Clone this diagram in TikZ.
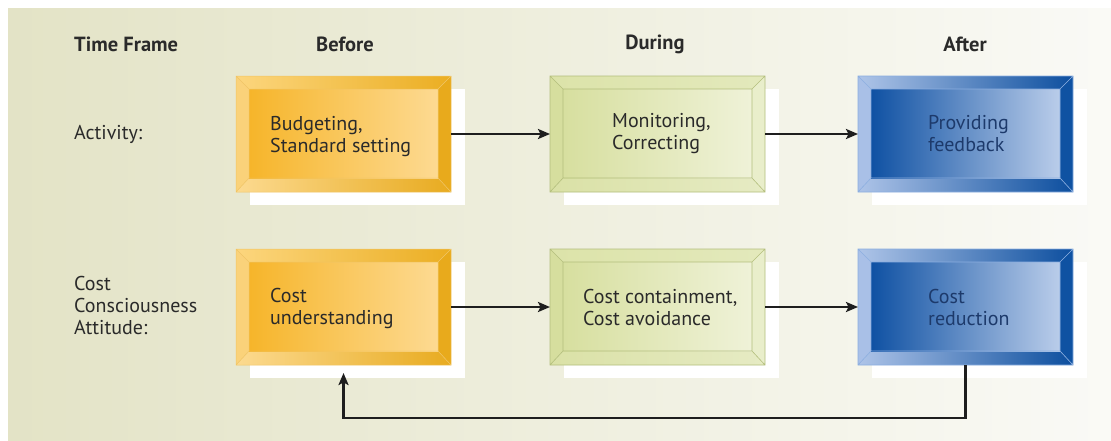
\documentclass[tikz,border=0pt]{standalone}
\usepackage{fontspec}
\setmainfont{PT Sans}
\usetikzlibrary{arrows.meta}
\definecolor{bgL}{HTML}{E3E3C6}
\definecolor{bgM}{HTML}{EEEEDF}
\definecolor{bgR}{HTML}{FAFAF6}
\definecolor{txtc}{HTML}{2A2A2A}
\definecolor{navy}{HTML}{1D3A6B}
\definecolor{arrc}{HTML}{1E1E1E}
% orange
\definecolor{oTopL}{HTML}{FCD67E}\definecolor{oTopR}{HTML}{EBAE22}
\definecolor{oBotL}{HTML}{FCDA90}\definecolor{oBotR}{HTML}{E8AB20}
\definecolor{oLeft}{HTML}{FAD27A}\definecolor{oRight}{HTML}{E8AA1C}
\definecolor{oFaceL}{HTML}{F6B52A}\definecolor{oFaceR}{HTML}{FDDA92}
\definecolor{oLine}{HTML}{F0C464}
% green
\definecolor{gTopL}{HTML}{DCE3A9}\definecolor{gTopR}{HTML}{E3E9BC}
\definecolor{gBotL}{HTML}{DAE1A6}\definecolor{gBotR}{HTML}{E6EBC4}
\definecolor{gLeft}{HTML}{D6DE9E}\definecolor{gRight}{HTML}{E9EECB}
\definecolor{gFaceL}{HTML}{D7DF9F}\definecolor{gFaceR}{HTML}{EFF2D8}
\definecolor{gLine}{HTML}{B3BE7C}
% blue
\definecolor{bTopL}{HTML}{AFC5E8}\definecolor{bTopR}{HTML}{0D4F9F}
\definecolor{bBotL}{HTML}{AEC4E8}\definecolor{bBotR}{HTML}{0C4E9E}
\definecolor{bLeft}{HTML}{A9C0E7}\definecolor{bRight}{HTML}{0F52A2}
\definecolor{bFaceL}{HTML}{0F51A3}\definecolor{bFaceM}{HTML}{4676B9}\definecolor{bFaceR}{HTML}{BACDEA}
\definecolor{bLine}{HTML}{8BAEE0}
\newcommand\bevbox[3]{%
  \fill[white] (#1+14,#2+13) rectangle (#1+229,#2+129);
  \path[#3topb] (#1,#2) -- (#1+215,#2) -- (#1+202,#2+13) -- (#1+13,#2+13) -- cycle;
  \path[#3botb] (#1,#2+116) -- (#1+215,#2+116) -- (#1+202,#2+102) -- (#1+13,#2+102) -- cycle;
  \path[#3leftb] (#1,#2) -- (#1+13,#2+13) -- (#1+13,#2+102) -- (#1,#2+116) -- cycle;
  \path[#3rightb] (#1+215,#2) -- (#1+202,#2+13) -- (#1+202,#2+102) -- (#1+215,#2+116) -- cycle;
  \path[#3faceb] (#1+13,#2+13) rectangle (#1+202,#2+102);
  \draw[#3lineb] (#1,#2) rectangle (#1+215,#2+116)
    (#1+13,#2+13) rectangle (#1+202,#2+102)
    (#1,#2) -- (#1+13,#2+13) (#1+215,#2) -- (#1+202,#2+13)
    (#1,#2+116) -- (#1+13,#2+102) (#1+215,#2+116) -- (#1+202,#2+102);
}
\tikzset{
  boxshape/.style={rectangle, minimum width=215pt, minimum height=116pt, inner sep=0pt, outer sep=0pt},
  txt/.style={font=\fontsize{20}{22}\selectfont, text=txtc, inner sep=0pt, align=left},
  hdr/.style={font=\bfseries\fontsize{20.5}{22}\selectfont, text=txtc, inner sep=0pt},
  arr/.style={draw=arrc, line width=2.8pt, -{Stealth[length=12pt,width=10pt,inset=2.5pt]}},
  otopb/.style={left color=oTopL, right color=oTopR},
  obotb/.style={left color=oBotL, right color=oBotR},
  oleftb/.style={fill=oLeft},
  orightb/.style={fill=oRight},
  ofaceb/.style={left color=oFaceL, right color=oFaceR},
  olineb/.style={draw=oLine, line width=0.5pt},
  gtopb/.style={left color=gTopL, right color=gTopR},
  gbotb/.style={left color=gBotL, right color=gBotR},
  gleftb/.style={fill=gLeft},
  grightb/.style={fill=gRight},
  gfaceb/.style={left color=gFaceL, right color=gFaceR},
  glineb/.style={draw=gLine, line width=0.6pt},
  btopb/.style={left color=bTopL, right color=bTopR},
  bbotb/.style={left color=bBotL, right color=bBotR},
  bleftb/.style={fill=bLeft},
  brightb/.style={fill=bRight},
  bfaceb/.style={left color=bFaceL, middle color=bFaceM, right color=bFaceR},
  blineb/.style={draw=bLine, line width=0.6pt},
}
\begin{document}
\begin{tikzpicture}[x=1pt,y=-1pt]
\useasboundingbox (0,0) rectangle (1111,440);
\shade[left color=bgL, middle color=bgM, right color=bgR] (8,8) rectangle (1111,440);

% headers
\node[hdr, anchor=west] (hdtf) at (74,44) {Time Frame};
\node[hdr] (hdb) at (345,44) {Before};
\node[hdr] (hdd) at (655,44) {During};
\node[hdr] (hda) at (965,44) {After};

% row labels
\node[txt, anchor=west] (lact) at (74,134) {Activity:};
\node[txt, anchor=west] (lcost) at (74,305) {Cost\\Consciousness\\Attitude:};

% row 1 boxes
\bevbox{236}{76}{o}
\node[boxshape] (o1) at (343.5,134) {};
\bevbox{550}{76}{g}
\node[boxshape] (g1) at (657.5,134) {};
\bevbox{858}{76}{b}
\node[boxshape] (b1) at (965.5,134) {};

% row 2 boxes
\bevbox{236}{249}{o}
\node[boxshape] (o2) at (343.5,307) {};
\bevbox{550}{249}{g}
\node[boxshape] (g2) at (657.5,307) {};
\bevbox{858}{249}{b}
\node[boxshape] (b2) at (965.5,307) {};

% box texts
\node[txt, anchor=west] (o1t) at (270,137) {Budgeting,\\Standard setting};
\node[txt, anchor=west] (g1t) at (612,134) {Monitoring,\\Correcting};
\node[txt, anchor=west, text=navy] (b1t) at (928,134) {Providing\\feedback};
\node[txt, anchor=west] (o2t) at (270,308) {Cost\\understanding};
\node[txt, anchor=west] (g2t) at (583,307) {Cost containment,\\Cost avoidance};
\node[txt, anchor=west, text=navy] (b2t) at (928,307) {Cost\\reduction};

% connectors
\draw[arr] (o1) -- (g1);
\draw[arr] (g1) -- (b1);
\draw[arr] (o2) -- (g2);
\draw[arr] (g2) -- (b2);
\coordinate (fb) at (655,418);
\draw[arr, shorten >=8pt] (b2.south) |- (fb) -| (o2.south);
\end{tikzpicture}
\end{document}
